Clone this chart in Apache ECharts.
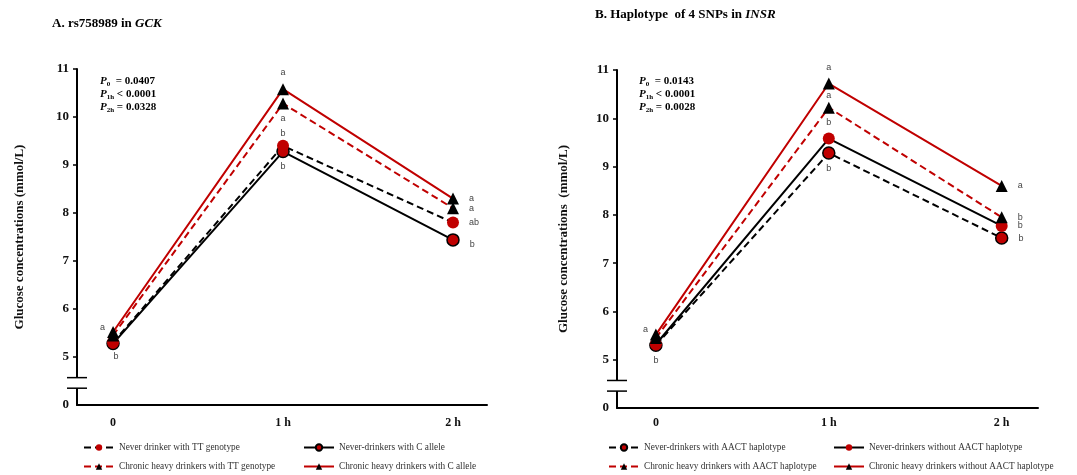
<!DOCTYPE html>
<html><head><meta charset="utf-8">
<script src="https://cdn.jsdelivr.net/npm/echarts@6/dist/echarts.min.js"></script>
<style>html,body{margin:0;padding:0;background:#fff}#c{width:1077px;height:475px}</style>
</head><body><div id="c"></div>
<script>
// ---------- data ----------
const timePoints = ['0', '1 h', '2 h'];
const yTickValues = [5, 6, 7, 8, 9, 10, 11];
const yZeroLabel = '0';

// Panel A: rs758989 in GCK
const namesA = ['Never drinker with TT genotype', 'Never-drinkers with C allele',
  'Chronic heavy drinkers with TT genotype', 'Chronic heavy drinkers with C allele'];
const neverTT_A = [5.30, 9.40, 7.80];
const neverC_A = [5.28, 9.28, 7.44];
const chronicTT_A = [5.45, 10.28, 8.10];
const chronicC_A = [5.52, 10.58, 8.30];
const lettersNeverTT_A = ['', 'b', 'ab'];
const lettersNeverC_A = ['b', 'b', 'b'];
const lettersChronicTT_A = ['', 'a', 'a'];
const lettersChronicC_A = ['a', 'a', 'a'];
const pValuesA = ['= 0.0407', '< 0.0001', '= 0.0328'];

// Panel B: Haplotype of 4 SNPs in INSR
const namesB = ['Never-drinkers with AACT haplotype', 'Never-drinkers without AACT haplotype',
  'Chronic heavy drinkers with AACT haplotype', 'Chronic heavy drinkers without AACT haplotype'];
const neverWith_B = [5.30, 9.28, 7.52];
const neverWithout_B = [5.32, 9.58, 7.77];
const chronicWith_B = [5.45, 10.22, 7.95];
const chronicWithout_B = [5.52, 10.72, 8.60];
const lettersNeverWith_B = ['b', 'b', 'b'];
const lettersNeverWithout_B = ['', 'b', 'b'];
const lettersChronicWith_B = ['', 'a', 'b'];
const lettersChronicWithout_B = ['a', 'a', 'a'];
const pValuesB = ['= 0.0143', '< 0.0001', '= 0.0028'];
const pSubs = ['0', '1h', '2h'];

// ---------- styles ----------
const RED = '#C00000', BLACK = '#000';
const SERIF = '"Liberation Serif","Times New Roman",serif';
const DASH = [7, 4];

function labelOpt(code) {
  const base = {show: true, color: '#444', fontSize: 9, fontFamily: 'Liberation Sans, sans-serif'};
  switch (code) {
    case 'top': return Object.assign(base, {position: 'top', distance: 6});
    case 'top2': return Object.assign(base, {position: 'top', distance: 2});
    case 'bottom': return Object.assign(base, {position: 'bottom', distance: 4});
    case 'right': return Object.assign(base, {position: 'right', distance: 10});
    case 'rightDown': return Object.assign(base, {position: 'right', distance: 10, offset: [0, 5]});
    case 'leftTop': return Object.assign(base, {position: 'left', distance: 2, offset: [0, -5]});
    case 'bottomRight': return Object.assign(base, {position: 'bottom', distance: 2, offset: [3, 0]});
  }
  return base;
}

function mkSeries(name, vals, letters, placements, lineColor, dashed, symbol, fill, border, gi) {
  return {
    type: 'line', name: name, xAxisIndex: gi, yAxisIndex: gi,
    symbol: symbol, symbolSize: 12,
    lineStyle: {color: lineColor, width: 2, type: dashed ? DASH : 'solid'},
    itemStyle: {color: fill, borderColor: border || fill, borderWidth: border ? 1.5 : 0},
    z: 3,
    data: vals.map((v, i) => ({
      value: [i, v],
      label: letters[i] ? Object.assign(labelOpt(placements[i]), {formatter: letters[i]}) : {show: false}
    }))
  };
}

function breakSeries(gi) {
  return {
    type: 'custom', xAxisIndex: gi, yAxisIndex: gi, silent: true, clip: false, z: 5,
    data: [[0, 4.5]],
    renderItem: function (params, api) {
      const top = api.coord([0, 4.57])[1];
      const bot = api.coord([0, 4.35])[1];
      const x = params.coordSys.x;
      return {type: 'group', children: [
        {type: 'rect', shape: {x: x - 4, y: top, width: 8, height: bot - top}, style: {fill: '#fff'}},
        {type: 'line', shape: {x1: x - 10, y1: top, x2: x + 10, y2: top}, style: {stroke: BLACK, lineWidth: 1.5}},
        {type: 'line', shape: {x1: x - 10, y1: bot, x2: x + 10, y2: bot}, style: {stroke: BLACK, lineWidth: 1.5}}
      ]};
    }
  };
}

function xAxisCfg(gi, min, max, margin) {
  return {
    type: 'value', gridIndex: gi, min: min, max: max,
    splitLine: {show: false},
    axisLine: {show: true, onZero: false, lineStyle: {color: BLACK, width: 2}},
    axisTick: {show: false},
    axisLabel: {customValues: [0, 1, 2], formatter: v => timePoints[Math.round(v)] || '',
      fontFamily: SERIF, fontWeight: 'bold', fontSize: 12, color: '#111', margin: margin}
  };
}
function yAxisCfg(gi, nameGap) {
  return {
    type: 'value', gridIndex: gi, min: 4, max: 11, interval: 1,
    name: gi === 0 ? 'Glucose concentrations (mmol/L)' : 'Glucose concentrations  (mmol/L)',
    nameLocation: 'middle', nameGap: nameGap, nameRotate: 90,
    nameTextStyle: {fontFamily: SERIF, fontWeight: 'bold', fontSize: 13, color: '#111'},
    splitLine: {show: false},
    axisLine: {show: true, onZero: false, lineStyle: {color: BLACK, width: 2}},
    axisTick: {show: true, customValues: yTickValues, length: 4, inside: false, lineStyle: {color: BLACK, width: 1.5}},
    axisLabel: {customValues: [4].concat(yTickValues), formatter: v => v === 4 ? yZeroLabel : String(v),
      fontFamily: SERIF, fontWeight: 'bold', fontSize: 13, color: '#111', margin: 8}
  };
}

function legendItem(name, left, top) {
  return {data: [name], left: left, top: top, padding: 0, itemWidth: 30, itemHeight: 8, itemGap: 4,
    textStyle: {fontFamily: SERIF, fontSize: 9.3, color: '#333'}, selectedMode: false};
}

function pText(left, vals) {
  const lines = vals.map((v, i) => '{p|P}{s|' + pSubs[i] + '}{t|' + (i === 0 ? '  ' : ' ') + v + '}');
  return {type: 'text', left: left, top: 75, silent: true,
    style: {text: lines.join('\n'), fontFamily: SERIF, lineHeight: 13,
      rich: {
        p: {fontFamily: SERIF, fontWeight: 'bold', fontStyle: 'italic', fontSize: 11, color: '#111', lineHeight: 13},
        s: {fontFamily: SERIF, fontWeight: 'bold', fontSize: 7, color: '#111', verticalAlign: 'bottom', lineHeight: 13, padding: [4, 0, 0, 0]},
        t: {fontFamily: SERIF, fontWeight: 'bold', fontSize: 11, color: '#111', lineHeight: 13}
      }}};
}

const chart = echarts.init(document.getElementById('c'), null, {renderer: 'canvas'});
chart.setOption({
  backgroundColor: '#fff',
  animation: false,
  grid: [
    {left: 77, top: 69, width: 410, height: 336},
    {left: 617, top: 70, width: 421, height: 338}
  ],
  xAxis: [xAxisCfg(0, -0.212, 2.2, 12), xAxisCfg(1, -0.225, 2.21, 9)],
  yAxis: [yAxisCfg(0, 51), yAxisCfg(1, 47)],
  legend: [
    legendItem(namesA[0], 83, 443), legendItem(namesA[1], 303, 443),
    legendItem(namesA[2], 83, 462), legendItem(namesA[3], 303, 462),
    legendItem(namesB[0], 608, 443), legendItem(namesB[1], 833, 443),
    legendItem(namesB[2], 608, 462), legendItem(namesB[3], 833, 462)
  ],
  graphic: [
    {type: 'text', left: 52, top: 17, silent: true,
      style: {text: '{b|A. rs758989 in }{i|GCK}', rich: {
        b: {fontFamily: SERIF, fontWeight: 'bold', fontSize: 13, color: '#111'},
        i: {fontFamily: SERIF, fontWeight: 'bold', fontStyle: 'italic', fontSize: 13, color: '#111'}}}},
    {type: 'text', left: 595, top: 8, silent: true,
      style: {text: '{b|B. Haplotype  of 4 SNPs in }{i|INSR}', rich: {
        b: {fontFamily: SERIF, fontWeight: 'bold', fontSize: 13, color: '#111'},
        i: {fontFamily: SERIF, fontWeight: 'bold', fontStyle: 'italic', fontSize: 13, color: '#111'}}}},
    pText(100, pValuesA),
    pText(639, pValuesB)
  ],
  series: [
    mkSeries(namesA[1], neverC_A, lettersNeverC_A, ['bottomRight', 'bottom', 'rightDown'], BLACK, false, 'circle', RED, BLACK, 0),
    mkSeries(namesA[0], neverTT_A, lettersNeverTT_A, ['', 'top2', 'right'], BLACK, true, 'circle', RED, null, 0),
    mkSeries(namesA[2], chronicTT_A, lettersChronicTT_A, ['', 'bottom', 'right'], RED, true, 'triangle', BLACK, null, 0),
    mkSeries(namesA[3], chronicC_A, lettersChronicC_A, ['leftTop', 'top', 'right'], RED, false, 'triangle', BLACK, null, 0),
    breakSeries(0),
    mkSeries(namesB[0], neverWith_B, lettersNeverWith_B, ['bottom', 'bottom', 'right'], BLACK, true, 'circle', RED, BLACK, 1),
    mkSeries(namesB[1], neverWithout_B, lettersNeverWithout_B, ['', 'top', 'right'], BLACK, false, 'circle', RED, null, 1),
    mkSeries(namesB[2], chronicWith_B, lettersChronicWith_B, ['', 'top2', 'right'], RED, true, 'triangle', BLACK, null, 1),
    mkSeries(namesB[3], chronicWithout_B, lettersChronicWithout_B, ['leftTop', 'top', 'right'], RED, false, 'triangle', BLACK, null, 1),
    breakSeries(1)
  ]
});
</script>
</body></html>
